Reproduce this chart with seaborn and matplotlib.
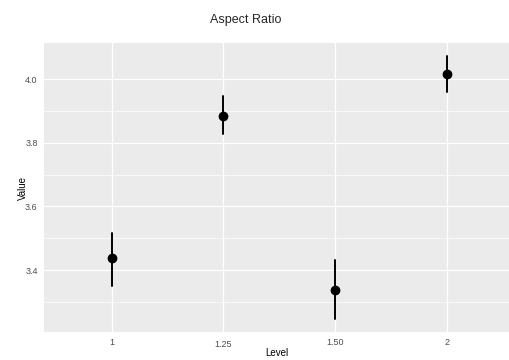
import matplotlib
matplotlib.use("Agg")
import matplotlib.pyplot as plt
import matplotlib.transforms as mtransforms
import seaborn as sns
import pandas as pd
import numpy as np

levels = ["1", "1.25", "1.50", "2"]
values = [3.437, 3.884, 3.337, 4.016]
lower = [3.350, 3.827, 3.248, 3.960]
upper = [3.518, 3.948, 3.431, 4.072]

sns.set_theme(style="darkgrid")
plt.rcParams["font.family"] = ["Liberation Sans", "DejaVu Sans"]

# long-form table: each level carries its lower, centre and upper value
rows = []
for lv, lo, v, hi in zip(levels, lower, values, upper):
    for y in (lo, v, hi):
        rows.append({"Level": lv, "Value": y})
df = pd.DataFrame(rows)

fig = plt.figure(figsize=(5.1, 3.6), dpi=100)
ax = fig.add_axes([44 / 510, 28 / 360, 466 / 510, 289 / 360])
ax.set_facecolor("#EBEBEB")

sns.pointplot(
    data=df, x="Level", y="Value", order=levels,
    estimator="median", errorbar=lambda s: (s.min(), s.max()),
    linestyle="none", color="black", markersize=5.0,
    err_kws={"linewidth": 1.4}, ax=ax,
)

ax.set_xlim(-0.604, 3.5625)
ax.set_ylim(3.206, 4.113)
ax.set_yticks([3.4, 3.6, 3.8, 4.0])
ax.set_yticks([3.3, 3.5, 3.7, 3.9], minor=True)
ax.grid(True, which="major", color="white", linewidth=0.9)
ax.grid(True, which="minor", axis="y", color="white", linewidth=0.5)
ax.set_axisbelow(True)
for s in ax.spines.values():
    s.set_visible(False)

ax.tick_params(axis="both", which="major", length=2.5, width=0.6, color="#333333",
               labelsize=6.5, labelcolor="#4D4D4D", pad=2)
ax.tick_params(axis="y", which="minor", length=0)
ax.set_yticklabels(["3.4", "3.6", "3.8", "4.0"])

# the second level label sits a little lower than the others
for i, lab in enumerate(ax.get_xticklabels()):
    if i == 1:
        lab.set_transform(lab.get_transform() + mtransforms.ScaledTranslation(0, -2 / 100, fig.dpi_scale_trans))

ax.set_xlabel("Level", fontsize=7, color="black", labelpad=-1)
ax.set_ylabel("Value", fontsize=7, color="black", labelpad=-2)
fig.suptitle("Aspect Ratio", fontsize=9, x=246 / 510, y=1 - 20 / 360, va="center")

fig.savefig("out.png", dpi=100)
